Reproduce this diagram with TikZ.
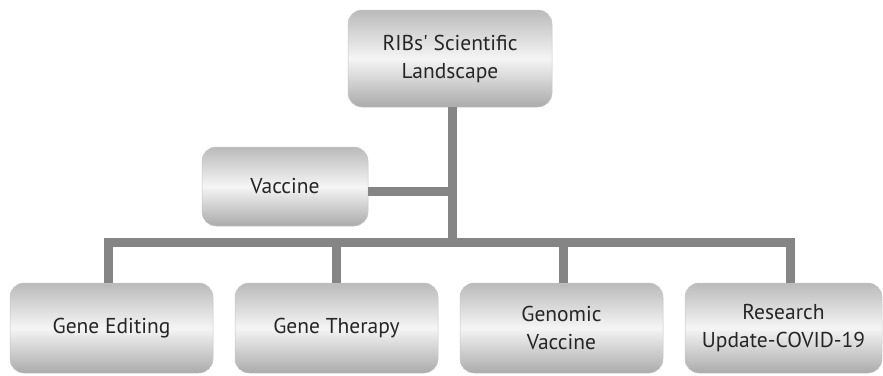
\documentclass[tikz,border=0pt]{standalone}
\usepackage{fontspec}
\setmainfont{PT Sans}
\begin{document}
\begin{tikzpicture}[x=1pt,y=-1pt,
  box/.style={rounded corners=14pt, draw=black!22, line width=0.5pt,
    top color=black!27, bottom color=black!33, middle color=black!4,
    text=black!85, align=center, inner sep=0pt,
    font=\fontsize{21.5}{28}\selectfont},
  conn/.style={draw=black!48, line width=9pt}]
\useasboundingbox (0,0) rectangle (883,375);
\node[box, minimum width=204pt, minimum height=97pt] (top) at (450,58.5) {RIBs\textquotesingle{} Scientific\\Landscape};
\node[box, minimum width=166pt, minimum height=79pt] (vac) at (285,186.5) {Vaccine};
\node[box, minimum width=203pt, minimum height=90pt] (ge) at (111.5,328) {Gene Editing};
\node[box, minimum width=203pt, minimum height=90pt] (gt) at (336.5,328) {Gene Therapy};
\node[box, minimum width=203pt, minimum height=90pt] (gv) at (561.5,328) {Genomic\\Vaccine};
\node[box, minimum width=197pt, minimum height=90pt] (rs) at (783.5,328) {Research\\Update-COVID-19};
\coordinate (bus) at (452,242);
\path[conn] ([xshift=2pt]top.south) -- (top.south -| bus) -- (bus);
\path[conn] ([yshift=-4.5pt]vac.east) -- ([yshift=-4.5pt]vac.east -| bus);
\path[conn] ([xshift=-3.5pt]ge.north) |- (bus) -| ([xshift=6.5pt]rs.north);
\path[conn] ([xshift=-0.5pt]gt.north) -- ([xshift=-0.5pt]gt.north |- bus);
\path[conn] ([xshift=1.5pt]gv.north) -- ([xshift=1.5pt]gv.north |- bus);
\end{tikzpicture}
\end{document}
